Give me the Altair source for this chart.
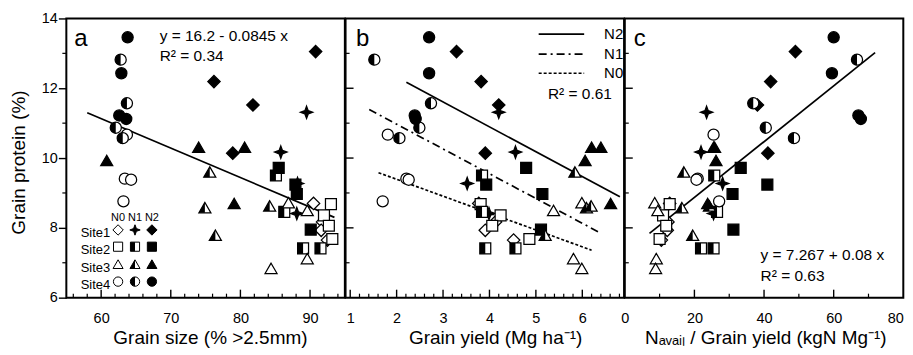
import altair as alt
import pandas as pd

FONT = "Liberation Sans"
W = 279.3
H = 280

SITES = ["Site1", "Site2", "Site3", "Site4"]
LEVELS = ["N0", "N1", "N2"]
REPS = 4

# 48 observations, ordered Site1 N0..N2, Site2 N0..N2, ... (4 per group)
protein = [
    8.70, 8.17, 7.93, 7.65,      # Site1 N0
    11.31, 10.17, 9.27, 8.41,    # Site1 N1
    13.05, 12.19, 11.52, 10.14,  # Site1 N2
    8.68, 8.36, 8.06, 7.68,      # Site2 N0
    9.50, 8.46, 7.41, 7.41,      # Site2 N1
    9.72, 9.24, 8.97, 7.95,      # Site2 N2
    8.72, 8.50, 7.12, 6.84,      # Site3 N0
    9.60, 8.58, 8.63, 7.79,      # Site3 N1
    10.31, 10.31, 9.93, 8.70,    # Site3 N2
    10.67, 9.41, 9.38, 8.76,     # Site4 N0
    12.82, 11.57, 10.87, 10.57,  # Site4 N1
    13.46, 12.43, 11.22, 11.12,  # Site4 N2
]
grain_size = [
    90.5, 91.8, 91.6, 92.5,
    89.5, 85.8, 88.2, 88.1,
    90.8, 76.2, 81.8, 78.9,
    93.0, 92.0, 92.7, 93.2,
    85.1, 86.3, 89.0, 91.5,
    85.5, 87.9, 88.1, 90.1,
    86.9, 89.6, 89.6, 84.4,
    75.6, 74.9, 84.2, 76.4,
    74.0, 80.6, 60.8, 79.1,
    63.7, 63.4, 64.3, 63.2,
    62.8, 63.7, 62.1, 63.1,
    63.8, 62.9, 62.6, 63.6,
]
grain_yield = [
    3.77, 4.13, 3.91, 4.52,
    4.20, 4.56, 3.52, 3.99,
    3.29, 3.82, 4.20, 3.91,
    3.81, 4.24, 4.06, 4.86,
    3.84, 3.84, 3.91, 4.56,
    4.79, 3.93, 5.14, 5.11,
    5.99, 5.38, 5.81, 5.99,
    5.84, 6.09, 6.19, 5.20,
    6.20, 6.40, 6.06, 6.61,
    1.81, 2.21, 2.26, 1.70,
    1.52, 2.74, 2.49, 2.06,
    2.70, 2.70, 2.39, 2.41,
]
n_ratio = [
    12.9, 12.4, 12.2, 10.5,
    23.5, 21.9, 28.1, 25.5,
    49.0, 41.9, 38.1, 41.1,
    12.9, 11.0, 11.9, 10.0,
    25.7, 26.5, 21.9, 25.5,
    33.3, 40.95, 30.95, 31.2,
    8.6, 9.5, 9.05, 8.86,
    16.95, 16.4, 24.3, 19.5,
    25.5, 25.8, 26.2, 23.8,
    25.5, 20.95, 20.6, 27.1,
    66.7, 36.9, 40.5, 48.6,
    60.0, 59.5, 67.1, 67.8,
]

# regression lines (end points)
line_a_x = [58.0, 93.5]
line_a_y = [11.30, 8.30]
line_b_n2_x = [2.21, 6.81]
line_b_n2_y = [12.17, 8.89]
line_b_n1_x = [1.41, 6.41]
line_b_n1_y = [11.39, 7.84]
line_b_n0_x = [1.61, 6.20]
line_b_n0_y = [9.58, 7.36]
line_c_x = [7.1, 71.9]
line_c_y = [7.84, 13.02]

# axis ticks
y_major = [8, 10, 12]
y_minor = [7, 9, 11, 13]
a_major = [60, 70, 80, 90]
a_minor = [56, 58, 62, 64, 66, 68, 72, 74, 76, 78, 82, 84, 86, 88, 92, 94]
b_major = [1, 2, 3, 4, 5, 6]
b_minor = [round(1 + 0.2 * i, 1) for i in range(1, 30) if i % 5 != 0]
c_major = [20, 40, 60]
c_minor = [10, 30, 50, 70]

site_col = [s for s in SITES for _ in LEVELS for _ in range(REPS)]
n_col = [n for _ in SITES for n in LEVELS for _ in range(REPS)]

STAR = "M0,-1L0.27,-0.27L1,0L0.27,0.27L0,1L-0.27,0.27L-1,0L-0.27,-0.27Z"
FULL = {"Site1": "diamond", "Site2": "square", "Site3": "triangle-up", "Site4": "circle"}
HALF = {"Site2": "M-1,-1L0,-1L0,1L-1,1Z",
        "Site3": "M0,-0.866L-1,0.866L0,0.866Z",
        "Site4": "M0,-1A1,1,0,0,0,0,1Z"}
SIZE = {"Site1": 155, "Site2": 120, "Site3": 145, "Site4": 125}

YSCALE = alt.Scale(domain=[6, 14], nice=False, zero=False)


def xs(dom):
    return alt.Scale(domain=dom, nice=False, zero=False)


def make_axis_x(values, title, title_x, align="center"):
    return alt.Axis(values=values, ticks=False, tickSize=0, domain=False, grid=False,
                    labelFlush=False, labelOverlap=False, labelPadding=25,
                    labelAlign=align,
                    labelBaseline="alphabetic", labelFontSize=14.5, labelColor="black",
                    title=title, titleFontSize=19, titleFontWeight="normal",
                    titleColor="black", titleBaseline="alphabetic", titleY=46,
                    titleX=title_x, titleAlign="center", titleAnchor="start")


def symbol_layers(d, X, Y, scale=1.0, sw=1.25):
    layers = []
    for s in SITES:
        for n in LEVELS:
            sub = d[(d.site == s) & (d.n == n)]
            if s == "Site1" and n == "N1":
                shape, fill, size = STAR, "black", 155
            else:
                shape, fill, size = FULL[s], ("black" if n == "N2" else "white"), SIZE[s]
            layers.append(alt.Chart(sub).mark_point(
                shape=shape, filled=True, fill=fill, stroke="black", strokeWidth=sw,
                size=size * scale, opacity=1).encode(x=X, y=Y))
            if n == "N1" and s != "Site1":
                layers.append(alt.Chart(sub).mark_point(
                    shape=HALF[s], filled=True, fill="black", strokeWidth=0,
                    size=size * scale, opacity=1).encode(x=X, y=Y))
    return layers


def tick_layers(X, Y, xmaj, xmin, ymaj=None, ymin=None, yout=False):
    L = []
    L.append(alt.Chart(pd.DataFrame({"x": xmaj})).mark_rule(color="black", strokeWidth=1.4)
             .encode(x=X, y=alt.value(H), y2=alt.value(H - 8)))
    L.append(alt.Chart(pd.DataFrame({"x": xmin})).mark_rule(color="black", strokeWidth=1.2)
             .encode(x=X, y=alt.value(H), y2=alt.value(H - 4)))
    if ymaj is not None:
        L.append(alt.Chart(pd.DataFrame({"y": ymaj})).mark_rule(color="black", strokeWidth=1.4)
                 .encode(y=Y, x=alt.value(0), x2=alt.value(8)))
    if ymin is not None:
        if yout:
            L.append(alt.Chart(pd.DataFrame({"y": ymin})).mark_rule(color="black", strokeWidth=1.2)
                     .encode(y=Y, x=alt.value(-4), x2=alt.value(0)))
        else:
            L.append(alt.Chart(pd.DataFrame({"y": ymin})).mark_rule(color="black", strokeWidth=1.2)
                     .encode(y=Y, x=alt.value(0), x2=alt.value(4)))
    return L


def text_layer(X, Y, x, y, t, size, align="left", baseline="alphabetic"):
    return alt.Chart(pd.DataFrame({"x": [x], "y": [y], "t": [t]})).mark_text(
        align=align, baseline=baseline, fontSize=size, font=FONT, color="black"
    ).encode(x=X, y=Y, text="t:N")


def line_layer(X, Y, x, y, dash=None, width=1.7):
    kw = dict(color="black", strokeWidth=width)
    if dash:
        kw["strokeDash"] = dash
    return alt.Chart(pd.DataFrame({"x": x, "y": y})).mark_line(**kw).encode(x=X, y=Y)


base = pd.DataFrame({"site": site_col, "n": n_col, "y": protein})

# ---------------- panel a ----------------
dom_a = [55, 95]
ax_a = make_axis_x([60, 70, 80, 90], "Grain size (% >2.5mm)", 144)
yax_a = alt.Axis(values=[6, 8, 10, 12, 14], tickSize=8, tickWidth=1.4, tickColor="black",
                 domain=False, grid=False, labelPadding=1, labelFontSize=14.5,
                 labelColor="black", title="Grain protein (%)", titleFontSize=19,
                 titleFontWeight="normal", titleColor="black", titleX=-48, titleY=144,
                 titleBaseline="middle", titleAlign="center")
Xa = alt.X("x:Q", scale=xs(dom_a), axis=ax_a)
Ya = alt.Y("y:Q", scale=YSCALE, axis=yax_a)
da = base.assign(x=grain_size)

leg_cols = [62.43, 64.86, 67.29]
leg_rows = [7.94, 7.46, 6.96, 6.46]
leg = pd.DataFrame({
    "site": [s for s in SITES for _ in LEVELS],
    "n": [n for _ in SITES for n in LEVELS],
    "x": [leg_cols[j] for i in range(len(SITES)) for j in range(len(LEVELS))],
    "y": [leg_rows[i] for i in range(len(SITES)) for j in range(len(LEVELS))],
})
leg_text = pd.DataFrame({"x": [61.3] * len(SITES), "y": [r - 0.1 for r in leg_rows], "t": SITES})
leg_head = pd.DataFrame({"x": leg_cols, "y": [8.28] * 3, "t": LEVELS})

layers_a = [line_layer(Xa, Ya, line_a_x, line_a_y)]
layers_a += tick_layers(Xa, Ya, a_major, a_minor, None, y_minor, yout=True)
layers_a += symbol_layers(da, Xa, Ya)
layers_a += symbol_layers(leg, Xa, Ya, scale=0.7, sw=1.0)
layers_a.append(alt.Chart(leg_text).mark_text(align="right", baseline="middle", fontSize=13,
                                                font=FONT, color="black")
                .encode(x=Xa, y=Ya, text="t:N"))
layers_a.append(alt.Chart(leg_head).mark_text(align="center", baseline="middle", fontSize=11,
                                                font=FONT, color="black")
                .encode(x=Xa, y=Ya, text="t:N"))
layers_a.append(text_layer(Xa, Ya, 57.1, 13.22, "a", 24, align="center"))
layers_a.append(text_layer(Xa, Ya, 68.4, 13.36, "y = 16.2 - 0.0845 x", 15.5))
layers_a.append(text_layer(Xa, Ya, 68.4, 12.79, "R\u00b2 = 0.34", 15.5))
panel_a = alt.layer(*layers_a).properties(width=W, height=H)

# ---------------- panel b ----------------
dom_b = [0.9, 6.9]
ax_b = make_axis_x([1, 2, 3, 4, 5, 6], "Grain yield (Mg ha\u207b\u00b9)", 150)
Xb = alt.X("x:Q", scale=xs(dom_b), axis=ax_b)
Yb = alt.Y("y:Q", scale=YSCALE, axis=None)
db = base.assign(x=grain_yield)

layers_b = [
    line_layer(Xb, Yb, line_b_n2_x, line_b_n2_y),
    line_layer(Xb, Yb, line_b_n1_x, line_b_n1_y, dash=[8, 4, 2, 4]),
    line_layer(Xb, Yb, line_b_n0_x, line_b_n0_y, dash=[3, 2]),
    line_layer(Xb, Yb, [5.06, 6.04], [13.55, 13.55]),
    line_layer(Xb, Yb, [5.06, 6.04], [12.98, 12.98], dash=[8, 4, 2, 4]),
    line_layer(Xb, Yb, [5.06, 6.04], [12.43, 12.43], dash=[3, 2]),
]
layers_b += tick_layers(Xb, Yb, b_major, b_minor, y_major, y_minor)
layers_b += symbol_layers(db, Xb, Yb)
layers_b.append(text_layer(Xb, Yb, 1.27, 13.22, "b", 24, align="center"))
layers_b.append(text_layer(Xb, Yb, 6.47, 13.41, "N2", 15))
layers_b.append(text_layer(Xb, Yb, 6.47, 12.84, "N1", 15))
layers_b.append(text_layer(Xb, Yb, 6.47, 12.29, "N0", 15))
layers_b.append(text_layer(Xb, Yb, 5.26, 11.69, "R\u00b2 = 0.61", 15.5))
panel_b = alt.layer(*layers_b).properties(width=W, height=H)

# ---------------- panel c ----------------
dom_c = [0, 80]
ax_c = make_axis_x([0, 20, 40, 60, 80],
                   "N\u2090\u1d65\u2090\u1d62\u2097 / Grain yield (kgN Mg\u207b\u00b9)", 141,
                   align={"condition": {"test": "datum.value == 80", "value": "right"},
                          "value": "center"})
Xc = alt.X("x:Q", scale=xs(dom_c), axis=ax_c)
Yc = alt.Y("y:Q", scale=YSCALE, axis=None)
dc = base.assign(x=n_ratio)

layers_c = [line_layer(Xc, Yc, line_c_x, line_c_y)]
layers_c += tick_layers(Xc, Yc, c_major, c_minor, y_major, y_minor)
layers_c += symbol_layers(dc, Xc, Yc)
layers_c.append(text_layer(Xc, Yc, 4.3, 13.22, "c", 24, align="center"))
layers_c.append(text_layer(Xc, Yc, 39.0, 7.08, "y = 7.267 + 0.08 x", 15.5))
layers_c.append(text_layer(Xc, Yc, 39.0, 6.48, "R\u00b2 = 0.63", 15.5))
panel_c = alt.layer(*layers_c).properties(width=W, height=H)

chart = alt.hconcat(panel_a, panel_b, panel_c, spacing=0, bounds="flush").properties(
    padding={"left": 0.5, "top": 1, "right": 0, "bottom": 0}
).configure(font=FONT).configure_view(stroke="black", strokeWidth=2)

chart.save("out.html", embed_options={"renderer": "svg", "actions": False})
